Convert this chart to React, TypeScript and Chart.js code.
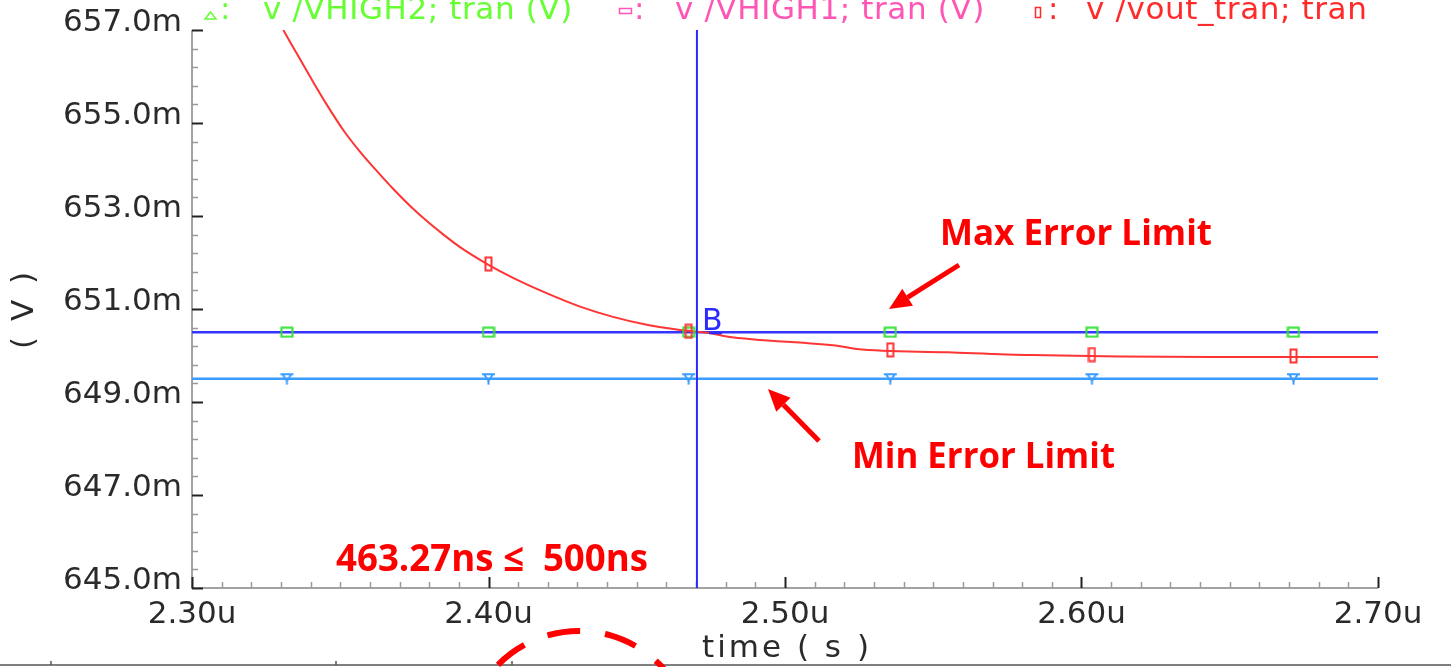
import React, { useEffect, useRef } from "react";
import { Chart, registerables } from "chart.js";

Chart.register(...registerables);

// ---- data ----
const X_MIN = 2.3;
const X_MAX = 2.7;
const Y_MIN = 645;
const Y_MAX = 657;

const xMajorTicks = [2.3, 2.4, 2.5, 2.6, 2.7];
const xTickLabels = ["2.30u", "2.40u", "2.50u", "2.60u", "2.70u"];
const yMajorTicks = [645, 647, 649, 651, 653, 655, 657];
const yTickLabels = ["645.0m", "647.0m", "649.0m", "651.0m", "653.0m", "655.0m", "657.0m"];

const voutTime = [
  2.3308, 2.3342, 2.3398, 2.3454, 2.351, 2.3567, 2.3623, 2.3679, 2.3735, 2.3792,
  2.3848, 2.3904, 2.4, 2.4083, 2.4196, 2.4309, 2.442, 2.4534, 2.4646, 2.4703,
  2.4757, 2.4803, 2.5186, 2.5242, 2.555, 2.5832, 2.6444, 2.7,
];
const voutValue = [
  657.0, 656.62, 656.0, 655.4, 654.85, 654.38, 653.97, 653.58, 653.22, 652.89,
  652.6, 652.33, 651.95, 651.67, 651.34, 651.05, 650.83, 650.66, 650.55, 650.51,
  650.47, 650.41, 650.2, 650.14, 650.07, 650.01, 649.97, 649.97,
];

const vhigh1Value = 650.5; // upper limit (dark blue)
const vhigh2Value = 649.5; // lower limit (light blue)

const markerTimes = [2.332, 2.4, 2.4675, 2.5355, 2.6035, 2.6715];
const voutMarkerTimes = [2.4, 2.4675, 2.5355, 2.6035, 2.6715];
const voutMarkerValues = [651.97, 650.52, 650.12, 650.02, 649.99];

const cursorTime = 2.4703;

// ---- colours ----
const RED = "#ff3434";
const DARK_BLUE = "#3535ff";
const LIGHT_BLUE = "#3a9cff";
const GREEN_MK = "#33e033";
const CURSOR_BLUE = "#2a2aff";

function makeCanvas(w: number, h: number, draw: (c: CanvasRenderingContext2D) => void) {
  const cv = document.createElement("canvas");
  cv.width = w;
  cv.height = h;
  const c = cv.getContext("2d")!;
  draw(c);
  return cv;
}

const LABEL_FONT = '31px "DejaVu Sans"';

const cadencePlugin = {
  id: "cadenceAxes",
  beforeDatasetsDraw(chart: any) {
    const { ctx, chartArea, scales } = chart;
    const { left, right, top, bottom } = chartArea;
    const xs = scales.x;
    const ys = scales.y;
    ctx.save();
    // axis lines
    ctx.strokeStyle = "#a2a2a2";
    ctx.lineWidth = 2;
    ctx.beginPath();
    ctx.moveTo(left, top);
    ctx.lineTo(left, bottom);
    ctx.lineTo(right, bottom);
    ctx.stroke();
    // x ticks
    for (let i = 0; i <= 40; i++) {
      const v = X_MIN + i * 0.01;
      const px = Math.round(xs.getPixelForValue(v)) + 0.5;
      const major = i % 10 === 0;
      ctx.strokeStyle = major ? "#222" : "#999";
      ctx.lineWidth = major ? 2 : 1.5;
      ctx.beginPath();
      ctx.moveTo(px, bottom);
      ctx.lineTo(px, bottom - (major ? 11 : 6));
      ctx.stroke();
    }
    // y ticks
    for (let i = 0; i <= 30; i++) {
      const v = Y_MIN + i * 0.4;
      const py = Math.round(ys.getPixelForValue(v)) + 0.5;
      const major = i % 5 === 0;
      ctx.strokeStyle = major ? "#222" : "#999";
      ctx.lineWidth = major ? 2 : 1.5;
      ctx.beginPath();
      ctx.moveTo(left, py);
      ctx.lineTo(left + (major ? 11 : 6), py);
      ctx.stroke();
    }
    // tick labels
    ctx.fillStyle = "#2a2a2a";
    ctx.font = LABEL_FONT;
    ctx.textBaseline = "alphabetic";
    ctx.textAlign = "center";
    xMajorTicks.forEach((v, i) => {
      ctx.fillText(xTickLabels[i], xs.getPixelForValue(v), 623);
    });
    ctx.textAlign = "right";
    yMajorTicks.forEach((v, i) => {
      ctx.fillText(yTickLabels[i], left - 10, ys.getPixelForValue(v) + 1);
    });
    // axis titles
    ctx.textAlign = "center";
    (ctx as any).letterSpacing = "3px";
    ctx.fillText("time ( s )", (left + right) / 2 + 2, 657);
    ctx.save();
    ctx.translate(33, (top + bottom) / 2);
    ctx.rotate(-Math.PI / 2);
    ctx.fillText("( V )", 0, 0);
    ctx.restore();
    (ctx as any).letterSpacing = "0px";
    ctx.restore();
  },
  afterDatasetsDraw(chart: any) {
    const { ctx, scales } = chart;
    const xs = scales.x;
    const ys = scales.y;
    ctx.save();
    // legend strip at top
    ctx.font = LABEL_FONT;
    ctx.textAlign = "left";
    ctx.textBaseline = "alphabetic";
    (ctx as any).letterSpacing = "0.6px";
    // green
    ctx.strokeStyle = "#66ff33";
    ctx.fillStyle = "#66ff33";
    ctx.lineWidth = 1.5;
    ctx.beginPath();
    ctx.moveTo(205, 19);
    ctx.lineTo(216, 19);
    ctx.lineTo(210.5, 12);
    ctx.closePath();
    ctx.stroke();
    ctx.fillText(":", 220, 19);
    ctx.fillText("v /VHIGH2; tran (V)", 263, 19);
    // pink
    ctx.strokeStyle = "#ff55b4";
    ctx.fillStyle = "#ff55b4";
    ctx.strokeRect(619.5, 8.5, 12, 5);
    ctx.fillText(":", 634, 19);
    ctx.fillText("v /VHIGH1; tran (V)", 675, 19);
    // red
    ctx.strokeStyle = "#ff2a2a";
    ctx.fillStyle = "#ff2a2a";
    ctx.strokeRect(1035.5, 7.5, 5, 10);
    ctx.fillText(":", 1048, 19);
    ctx.fillText("v /vout_tran; tran", 1086, 19);
    (ctx as any).letterSpacing = "0px";

    // cursor label
    ctx.fillStyle = CURSOR_BLUE;
    ctx.font = '30px "DejaVu Sans"';
    ctx.fillText("B", xs.getPixelForValue(cursorTime) + 5, ys.getPixelForValue(vhigh1Value) - 2);
    ctx.strokeStyle = CURSOR_BLUE;
    ctx.lineWidth = 2;
    ctx.beginPath();
    ctx.moveTo(xs.getPixelForValue(cursorTime) + 12, ys.getPixelForValue(vhigh1Value) + 1);
    ctx.lineTo(xs.getPixelForValue(cursorTime) + 25, ys.getPixelForValue(vhigh1Value) + 1);
    ctx.stroke();

    // annotations
    ctx.fillStyle = "#ff0000";
    ctx.font = 'bold 35px "Open Sans"';
    ctx.fillText("Max Error Limit", 940, 245, 272);
    ctx.fillText("Min Error Limit", 852, 468, 263);
    ctx.font = 'bold 37px "Open Sans"';
    ctx.fillText("463.27ns \u2264  500ns", 336, 571, 312);

    const arrow = (x1: number, y1: number, x2: number, y2: number) => {
      const ang = Math.atan2(y2 - y1, x2 - x1);
      const headLen = 22;
      const headW = 10;
      const bx = x2 - headLen * Math.cos(ang);
      const by = y2 - headLen * Math.sin(ang);
      ctx.strokeStyle = "#ff0000";
      ctx.lineWidth = 5;
      ctx.lineCap = "butt";
      ctx.beginPath();
      ctx.moveTo(x1, y1);
      ctx.lineTo(bx, by);
      ctx.stroke();
      ctx.fillStyle = "#ff0000";
      ctx.beginPath();
      ctx.moveTo(x2, y2);
      ctx.lineTo(bx + headW * Math.sin(ang), by - headW * Math.cos(ang));
      ctx.lineTo(bx - headW * Math.sin(ang), by + headW * Math.cos(ang));
      ctx.closePath();
      ctx.fill();
    };
    arrow(959, 265, 889, 309);
    arrow(819, 441, 768, 389);

    // bottom rule of the slide
    ctx.strokeStyle = "#555";
    ctx.lineWidth = 1.5;
    ctx.beginPath();
    ctx.moveTo(0, 665);
    ctx.lineTo(1451, 665);
    [51, 336, 512].forEach((tx) => {
      ctx.moveTo(tx, 665);
      ctx.lineTo(tx, 661);
    });
    ctx.stroke();

    // dashed circle
    ctx.strokeStyle = "#ff0000";
    ctx.lineWidth = 6;
    ctx.setLineDash([33, 25]);
    ctx.beginPath();
    ctx.arc(579, 745, 114, (-164.4 * Math.PI) / 180, (-10 * Math.PI) / 180);
    ctx.stroke();
    ctx.setLineDash([]);
    ctx.restore();
  },
};

export default function App() {
  const ref = useRef<HTMLCanvasElement>(null);
  useEffect(() => {
    const canvas = ref.current!;
    const sq = makeCanvas(14, 12, (c) => {
      c.strokeStyle = GREEN_MK;
      c.lineWidth = 2;
      c.strokeRect(1.5, 1.5, 11, 9);
    });
    const tri = makeCanvas(15, 13, (c) => {
      c.strokeStyle = LIGHT_BLUE;
      c.lineWidth = 2;
      c.beginPath();
      c.moveTo(1, 2);
      c.lineTo(14, 2);
      c.moveTo(3, 2);
      c.lineTo(7.5, 8.5);
      c.lineTo(12, 2);
      c.moveTo(7.5, 8);
      c.lineTo(7.5, 12.5);
      c.stroke();
    });
    const rmk = makeCanvas(9, 16, (c) => {
      c.strokeStyle = RED;
      c.lineWidth = 2;
      c.strokeRect(1.5, 1.5, 6, 13);
    });

    const chart = new Chart(canvas, {
      type: "line",
      data: {
        datasets: [
          {
            label: "vout markers",
            data: voutMarkerTimes.map((t, i) => ({ x: t, y: voutMarkerValues[i] })),
            showLine: false,
            pointStyle: rmk as any,
            pointRadius: 5,
            order: 0,
          },
          {
            label: "VHIGH1 markers",
            data: markerTimes.map((t) => ({ x: t, y: vhigh1Value })),
            showLine: false,
            pointStyle: sq as any,
            pointRadius: 5,
            order: 2,
          },
          {
            label: "VHIGH2 markers",
            data: markerTimes.map((t) => ({ x: t, y: vhigh2Value })),
            showLine: false,
            pointStyle: tri as any,
            pointRadius: 5,
            order: 2,
          },
          {
            label: "cursor",
            data: [
              { x: cursorTime, y: Y_MIN },
              { x: cursorTime, y: Y_MAX },
            ],
            borderColor: CURSOR_BLUE,
            borderWidth: 2,
            pointRadius: 0,
            order: 1,
          },
          {
            label: "vout_tran",
            data: voutTime.map((t, i) => ({ x: t, y: voutValue[i] })),
            borderColor: RED,
            borderWidth: 2,
            pointRadius: 0,
            cubicInterpolationMode: "monotone",
            order: 3,
          },
          {
            label: "VHIGH1",
            data: [
              { x: X_MIN, y: vhigh1Value },
              { x: X_MAX, y: vhigh1Value },
            ],
            borderColor: DARK_BLUE,
            borderWidth: 2.5,
            pointRadius: 0,
            order: 4,
          },
          {
            label: "VHIGH2",
            data: [
              { x: X_MIN, y: vhigh2Value },
              { x: X_MAX, y: vhigh2Value },
            ],
            borderColor: LIGHT_BLUE,
            borderWidth: 2.5,
            pointRadius: 0,
            order: 4,
          },
        ],
      },
      options: {
        responsive: false,
        animation: false,
        devicePixelRatio: 1,
        events: [],
        layout: { padding: { left: 192, right: 73, top: 30, bottom: 79 } },
        scales: {
          x: { type: "linear", min: X_MIN, max: X_MAX, display: false },
          y: { type: "linear", min: Y_MIN, max: Y_MAX, display: false },
        },
        plugins: {
          legend: { display: false },
          tooltip: { enabled: false },
        },
      },
      plugins: [cadencePlugin],
    });
    return () => chart.destroy();
  }, []);
  return (
    <div style={{ position: "absolute", left: 0, top: 0, width: 1451, height: 667, background: "#fff" }}>
      <canvas ref={ref} width={1451} height={667} style={{ display: "block", width: 1451, height: 667 }} />
    </div>
  );
}
